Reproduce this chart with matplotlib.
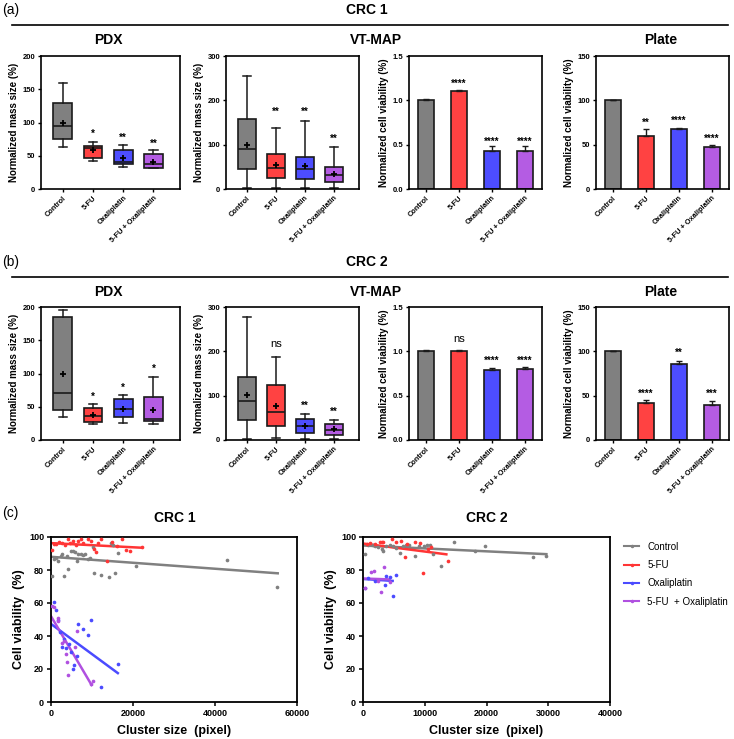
import matplotlib
matplotlib.use('Agg')
import matplotlib.pyplot as plt
from matplotlib.lines import Line2D
import numpy as np

plt.rcParams['font.family'] = ['Liberation Sans', 'DejaVu Sans']

W, H = 734, 739

groups = ['Control', '5-FU', 'Oxaliplatin', '5-FU + Oxaliplatin']
legend_labels = ['Control', '5-FU', 'Oxaliplatin', '5-FU  + Oxaliplatin']
box_colors = ['#808080', '#ff4242', '#4d4dff', '#b45ce3']
line_colors = ['#808080', '#ff3535', '#4b4bff', '#b050e0']

# box stats per group: (whislo, q1, med, q3, whishi, mean)
crc1_pdx = [(63, 75, 94, 129, 160, 100), (42, 47, 62, 64, 71, 58),
            (33, 37, 41, 58, 66, 47), (31, 32, 38, 53, 58, 41)]
crc1_pdx_sig = ['', '*', '**', '**']
crc1_pdx_sig_y = [0, 86, 80, 72]

crc1_vt = [(2, 44, 90, 157, 256, 100), (2, 24, 47, 78, 138, 54),
           (2, 23, 45, 72, 154, 52), (2, 16, 31, 49, 94, 34)]
crc1_vt_sig = ['', '**', '**', '**']
crc1_vt_sig_y = [0, 180, 180, 118]

crc2_pdx = [(35, 45, 70, 185, 196, 100), (24, 27, 36, 48, 54, 37),
            (25, 35, 47, 61, 67, 46), (24, 29, 32, 65, 95, 45)]
crc2_pdx_sig = ['', '*', '*', '*']
crc2_pdx_sig_y = [0, 68, 82, 110]

crc2_vt = [(2, 44, 89, 142, 277, 101), (4, 32, 64, 123, 188, 77),
           (3, 15, 31, 48, 59, 31), (2, 11, 22, 35, 46, 24)]
crc2_vt_sig = ['', 'ns', '**', '**']
crc2_vt_sig_y = [0, 215, 83, 69]

# bars: mean and upper error
crc1_vtbar = [1.0, 1.102, 0.432, 0.432]
crc1_vtbar_err = [0.015, 0.01, 0.05, 0.058]
crc1_vtbar_sig = ['', '****', '****', '****']
crc1_vtbar_sig_y = [0, 1.216, 0.56, 0.56]

crc1_plate = [100, 59.8, 68.2, 47.0]
crc1_plate_err = [0.4, 7.6, 1.0, 2.6]
crc1_plate_sig = ['', '**', '****', '****']
crc1_plate_sig_y = [0, 77.3, 79.5, 59]

crc2_vtbar = [1.0, 1.005, 0.793, 0.80]
crc2_vtbar_err = [0.01, 0.015, 0.023, 0.027]
crc2_vtbar_sig = ['', 'ns', '****', '****']
crc2_vtbar_sig_y = [0, 1.133, 0.914, 0.914]

crc2_plate = [100, 41.8, 86.1, 39.7]
crc2_plate_err = [0.4, 3.0, 3.0, 4.5]
crc2_plate_sig = ['', '****', '**', '***']
crc2_plate_sig_y = [0, 54.8, 100.9, 54.4]

# scatter (cluster size vs viability)
c1_ctrl_x = [170, 810, 1630, 2360, 3170, 3820, 4230, 4800, 5450, 5860, 6270, 6670, 7320,
             7890, 9110, 9520, 10170, 10580, 12200, 14150, 14560, 15200, 15600, 16260,
             20650, 42860, 55070, 1200, 2700, 8400]
c1_ctrl_y = [76.6, 86.7, 85.2, 88.3, 76.6, 88.5, 80.4, 91.7, 91.7, 90.7, 85.5, 89.4, 89.4,
             88.8, 86.8, 87.2, 93.9, 78, 77.2, 75.6, 96.3, 95.3, 78, 90.3,
             82.6, 86.1, 69.9, 87.5, 89.7, 89.8]
c1_fu_x = [170, 810, 1300, 2030, 2800, 3400, 4230, 4600, 5400, 6000, 6700, 7320, 7900,
           8930, 9700, 10400, 10900, 11500, 12200, 13700, 14800, 16000, 17400, 18200,
           19300, 22100]
c1_fu_y = [92.1, 95.5, 96, 96.7, 96.2, 95, 98.5, 96.5, 97.6, 95.3, 97.8, 98.8, 96.5,
           98.8, 97.5, 93, 91, 96.3, 98.5, 85.5, 96.8, 94.8, 98.5, 92.2,
           91.5, 94.2]
c1_ox_x = [810, 1220, 1790, 2200, 2760, 3170, 3740, 4390, 4800, 5290, 5690, 6270, 6670,
           7730, 9110, 9760, 12200, 16260]
c1_ox_y = [60.4, 56, 49.5, 42.7, 33.5, 38, 32.7, 35, 30.5, 20, 22.6, 28, 47.5,
           44.4, 40.4, 50, 8.9, 23]
c1_combo_x = [170, 810, 1630, 1790, 2600, 3170, 3580, 3900, 4230, 5860, 6270, 9760, 10170]
c1_combo_y = [58.4, 57.8, 51, 49, 35.6, 37, 29, 24.5, 16.3, 33.5, 43, 10.8, 12.7]

c2_ctrl_x = [300, 800, 1200, 1600, 2000, 2500, 3000, 3300, 3800, 4300, 4800, 5300, 6000,
             6500, 7000, 7500, 8400, 9000, 9800, 10300, 10800, 11300, 12700, 14700,
             18100, 19700, 27600, 29700]
c2_ctrl_y = [89.8, 95, 95.5, 95, 94.7, 94, 93, 91.3, 94.5, 95.3, 94.3, 93.5, 90.3,
             94.5, 95, 95.3, 88.6, 94.7, 94.3, 95, 95.2, 89.8, 82.2, 96.8,
             91.3, 94.3, 87.8, 88.2]
c2_fu_x = [600, 1200, 2000, 2700, 3000, 3300, 4700, 5400, 6200, 6800, 7200, 8400, 9200,
           9700, 10600, 11000, 13800]
c2_fu_y = [96, 96.5, 96, 96.8, 97.2, 97, 98.8, 96.8, 97.4, 87.6, 95.5, 96.8, 96.3,
           78, 93, 94, 85.2]
c2_ox_x = [300, 800, 2000, 3500, 3800, 4300, 4800, 5300]
c2_ox_y = [68.8, 75, 73.5, 71, 76.5, 76, 64.5, 77]
c2_combo_x = [300, 1300, 1800, 2400, 2900, 3400, 4300]
c2_combo_y = [68.8, 78.5, 79.5, 73.5, 66.8, 82, 72.5]

# fitted lines: (x start, x end, y start, y end)
c1_fits = [(0, 55300, 88, 78), (0, 22100, 96.3, 93.5), (0, 16300, 47.3, 17.5), (0, 9900, 52, 10.3)]
c2_fits = [(300, 29700, 94.8, 89.6), (300, 13500, 95.9, 89.5), (300, 4800, 74.5, 73.4),
           (300, 4300, 74.8, 74.3)]


def rect(l, t, r, b):
    return [l / W, 1 - b / H, (r - l) / W, (b - t) / H]


def ftext(x, y, s, **kw):
    fig.text(x / W, 1 - y / H, s, **kw)


def put_sig(ax, labels, ys):
    for i, (s, y) in enumerate(zip(labels, ys)):
        if not s:
            continue
        if s == 'ns':
            ax.annotate(s, (i, y), xytext=(0, -2.0), textcoords='offset points',
                        ha='center', va='baseline', fontsize=8)
        else:
            ax.annotate(s, (i, y), xytext=(0, -3.8), textcoords='offset points',
                        ha='center', va='baseline', fontsize=7, fontweight='bold')


def style_cat(ax, ylim, yticks, ylabel, fmt):
    ax.set_ylim(*ylim)
    ax.set_yticks(yticks)
    ax.set_yticklabels([fmt.format(v) for v in yticks], fontsize=5.5, fontweight='bold')
    ax.set_xticks(range(4))
    ax.set_xticklabels(groups, rotation=45, ha='right', rotation_mode='anchor',
                       fontsize=5.3, fontweight='bold')
    ax.set_ylabel(ylabel, fontsize=7, fontweight='bold', labelpad=3)
    for sp in ax.spines.values():
        sp.set_linewidth(1.2)
    ax.tick_params(width=1.0, length=2.5, pad=1.5)


def box_panel(ax, stats, sig, sig_y, ylim, yticks):
    bstats = [dict(whislo=s[0], q1=s[1], med=s[2], q3=s[3], whishi=s[4], mean=s[5], fliers=[])
              for s in stats]
    bp = ax.bxp(bstats, positions=range(4), widths=0.62, showmeans=True, patch_artist=True,
                capwidths=0.28,
                boxprops=dict(linewidth=1.2, edgecolor='#1a1a1a'),
                medianprops=dict(color='#1a1a1a', linewidth=1.2),
                whiskerprops=dict(color='#1a1a1a', linewidth=1.1),
                capprops=dict(color='#1a1a1a', linewidth=1.1),
                meanprops=dict(marker='+', markeredgecolor='k', markersize=4.5, markeredgewidth=1.3))
    for patch, c in zip(bp['boxes'], box_colors):
        patch.set_facecolor(c)
    ax.set_xlim(-0.72, 3.88)
    style_cat(ax, ylim, yticks, 'Normalized mass size (%)', '{:g}')
    put_sig(ax, sig, sig_y)


def bar_panel(ax, vals, errs, sig, sig_y, ylim, yticks, fmt):
    ax.bar(range(4), vals, width=0.48, color=box_colors, edgecolor='#1a1a1a', linewidth=1.2)
    ax.errorbar(range(4), vals, yerr=[np.zeros(4), errs], fmt='none', ecolor='#1a1a1a',
                elinewidth=1.0, capsize=2.5, capthick=1.0)
    ax.set_xlim(-0.52, 3.52)
    style_cat(ax, ylim, yticks, 'Normalized cell viability (%)', fmt)
    put_sig(ax, sig, sig_y)


def scatter_panel(ax, xs, ys, fits, xmax, xticks):
    for x, y, f, c in zip(xs, ys, fits, line_colors):
        ax.scatter(x, y, s=7, color=c, linewidths=0, zorder=3)
        ax.plot([f[0], f[1]], [f[2], f[3]], color=c, linewidth=1.8, zorder=2)
    ax.set_xlim(0, xmax)
    ax.set_ylim(0, 100)
    ax.set_xticks(xticks)
    ax.set_xticklabels([str(t) for t in xticks], fontsize=6.5, fontweight='bold')
    ax.set_yticks(range(0, 101, 20))
    ax.set_yticklabels([str(t) for t in range(0, 101, 20)], fontsize=6.5, fontweight='bold')
    ax.set_xlabel('Cluster size  (pixel)', fontsize=9, fontweight='bold', labelpad=5)
    ax.set_ylabel('Cell viability  (%)', fontsize=9, fontweight='bold', labelpad=3)
    for sp in ax.spines.values():
        sp.set_linewidth(1.3)
    ax.tick_params(width=1.1, length=3, pad=2)


fig = plt.figure(figsize=(W / 100, H / 100), dpi=100)

col_x = [(41, 180), (226, 359), (409, 542), (596, 729)]
rows = [(56, 189), (307, 440)]

# row headers
for lab, ty, crc in [('(a)', 10, 'CRC 1'), ('(b)', 262, 'CRC 2')]:
    ftext(2, ty, lab, fontsize=10, va='center', ha='left')
    ftext(367, ty, crc, fontsize=10, fontweight='bold', va='center', ha='center')
    fig.add_artist(Line2D([12 / W, 728 / W], [1 - (ty + 15) / H] * 2, color='k', linewidth=1.2))
    ftext(108, ty + 30, 'PDX', fontsize=10, fontweight='bold', va='center', ha='center')
    ftext(376, ty + 30, 'VT-MAP', fontsize=10, fontweight='bold', va='center', ha='center')
    ftext(661, ty + 30, 'Plate', fontsize=10, fontweight='bold', va='center', ha='center')

panel_data = [
    (crc1_pdx, crc1_pdx_sig, crc1_pdx_sig_y, crc1_vt, crc1_vt_sig, crc1_vt_sig_y,
     crc1_vtbar, crc1_vtbar_err, crc1_vtbar_sig, crc1_vtbar_sig_y,
     crc1_plate, crc1_plate_err, crc1_plate_sig, crc1_plate_sig_y),
    (crc2_pdx, crc2_pdx_sig, crc2_pdx_sig_y, crc2_vt, crc2_vt_sig, crc2_vt_sig_y,
     crc2_vtbar, crc2_vtbar_err, crc2_vtbar_sig, crc2_vtbar_sig_y,
     crc2_plate, crc2_plate_err, crc2_plate_sig, crc2_plate_sig_y),
]

for (top, bot), d in zip(rows, panel_data):
    axes = [fig.add_axes(rect(l, top, r, bot)) for l, r in col_x]
    box_panel(axes[0], d[0], d[1], d[2], (0, 200), [0, 50, 100, 150, 200])
    box_panel(axes[1], d[3], d[4], d[5], (0, 300), [0, 100, 200, 300])
    bar_panel(axes[2], d[6], d[7], d[8], d[9], (0, 1.5), [0, 0.5, 1.0, 1.5], '{:.1f}')
    bar_panel(axes[3], d[10], d[11], d[12], d[13], (0, 150), [0, 50, 100, 150], '{:g}')

# row (c)
ftext(2, 513, '(c)', fontsize=10, va='center', ha='left')
ftext(175, 518, 'CRC 1', fontsize=10, fontweight='bold', va='center', ha='center')
ftext(487, 518, 'CRC 2', fontsize=10, fontweight='bold', va='center', ha='center')

ax1 = fig.add_axes(rect(51, 537, 297, 702))
scatter_panel(ax1, [c1_ctrl_x, c1_fu_x, c1_ox_x, c1_combo_x],
              [c1_ctrl_y, c1_fu_y, c1_ox_y, c1_combo_y], c1_fits, 60000, [0, 20000, 40000, 60000])
ax2 = fig.add_axes(rect(363, 537, 610, 702))
scatter_panel(ax2, [c2_ctrl_x, c2_fu_x, c2_ox_x, c2_combo_x],
              [c2_ctrl_y, c2_fu_y, c2_ox_y, c2_combo_y], c2_fits, 40000,
              [0, 10000, 20000, 30000, 40000])

handles = [Line2D([], [], color=c, linewidth=1.5, marker='o', markersize=1.5) for c in line_colors]
fig.legend(handles, legend_labels, loc='upper left', bbox_to_anchor=(617 / W, 1 - 535 / H),
           frameon=False, fontsize=7, handlelength=1.6, labelspacing=0.85, handletextpad=0.8,
           borderaxespad=0.3)

fig.savefig('out.png', dpi=100)
